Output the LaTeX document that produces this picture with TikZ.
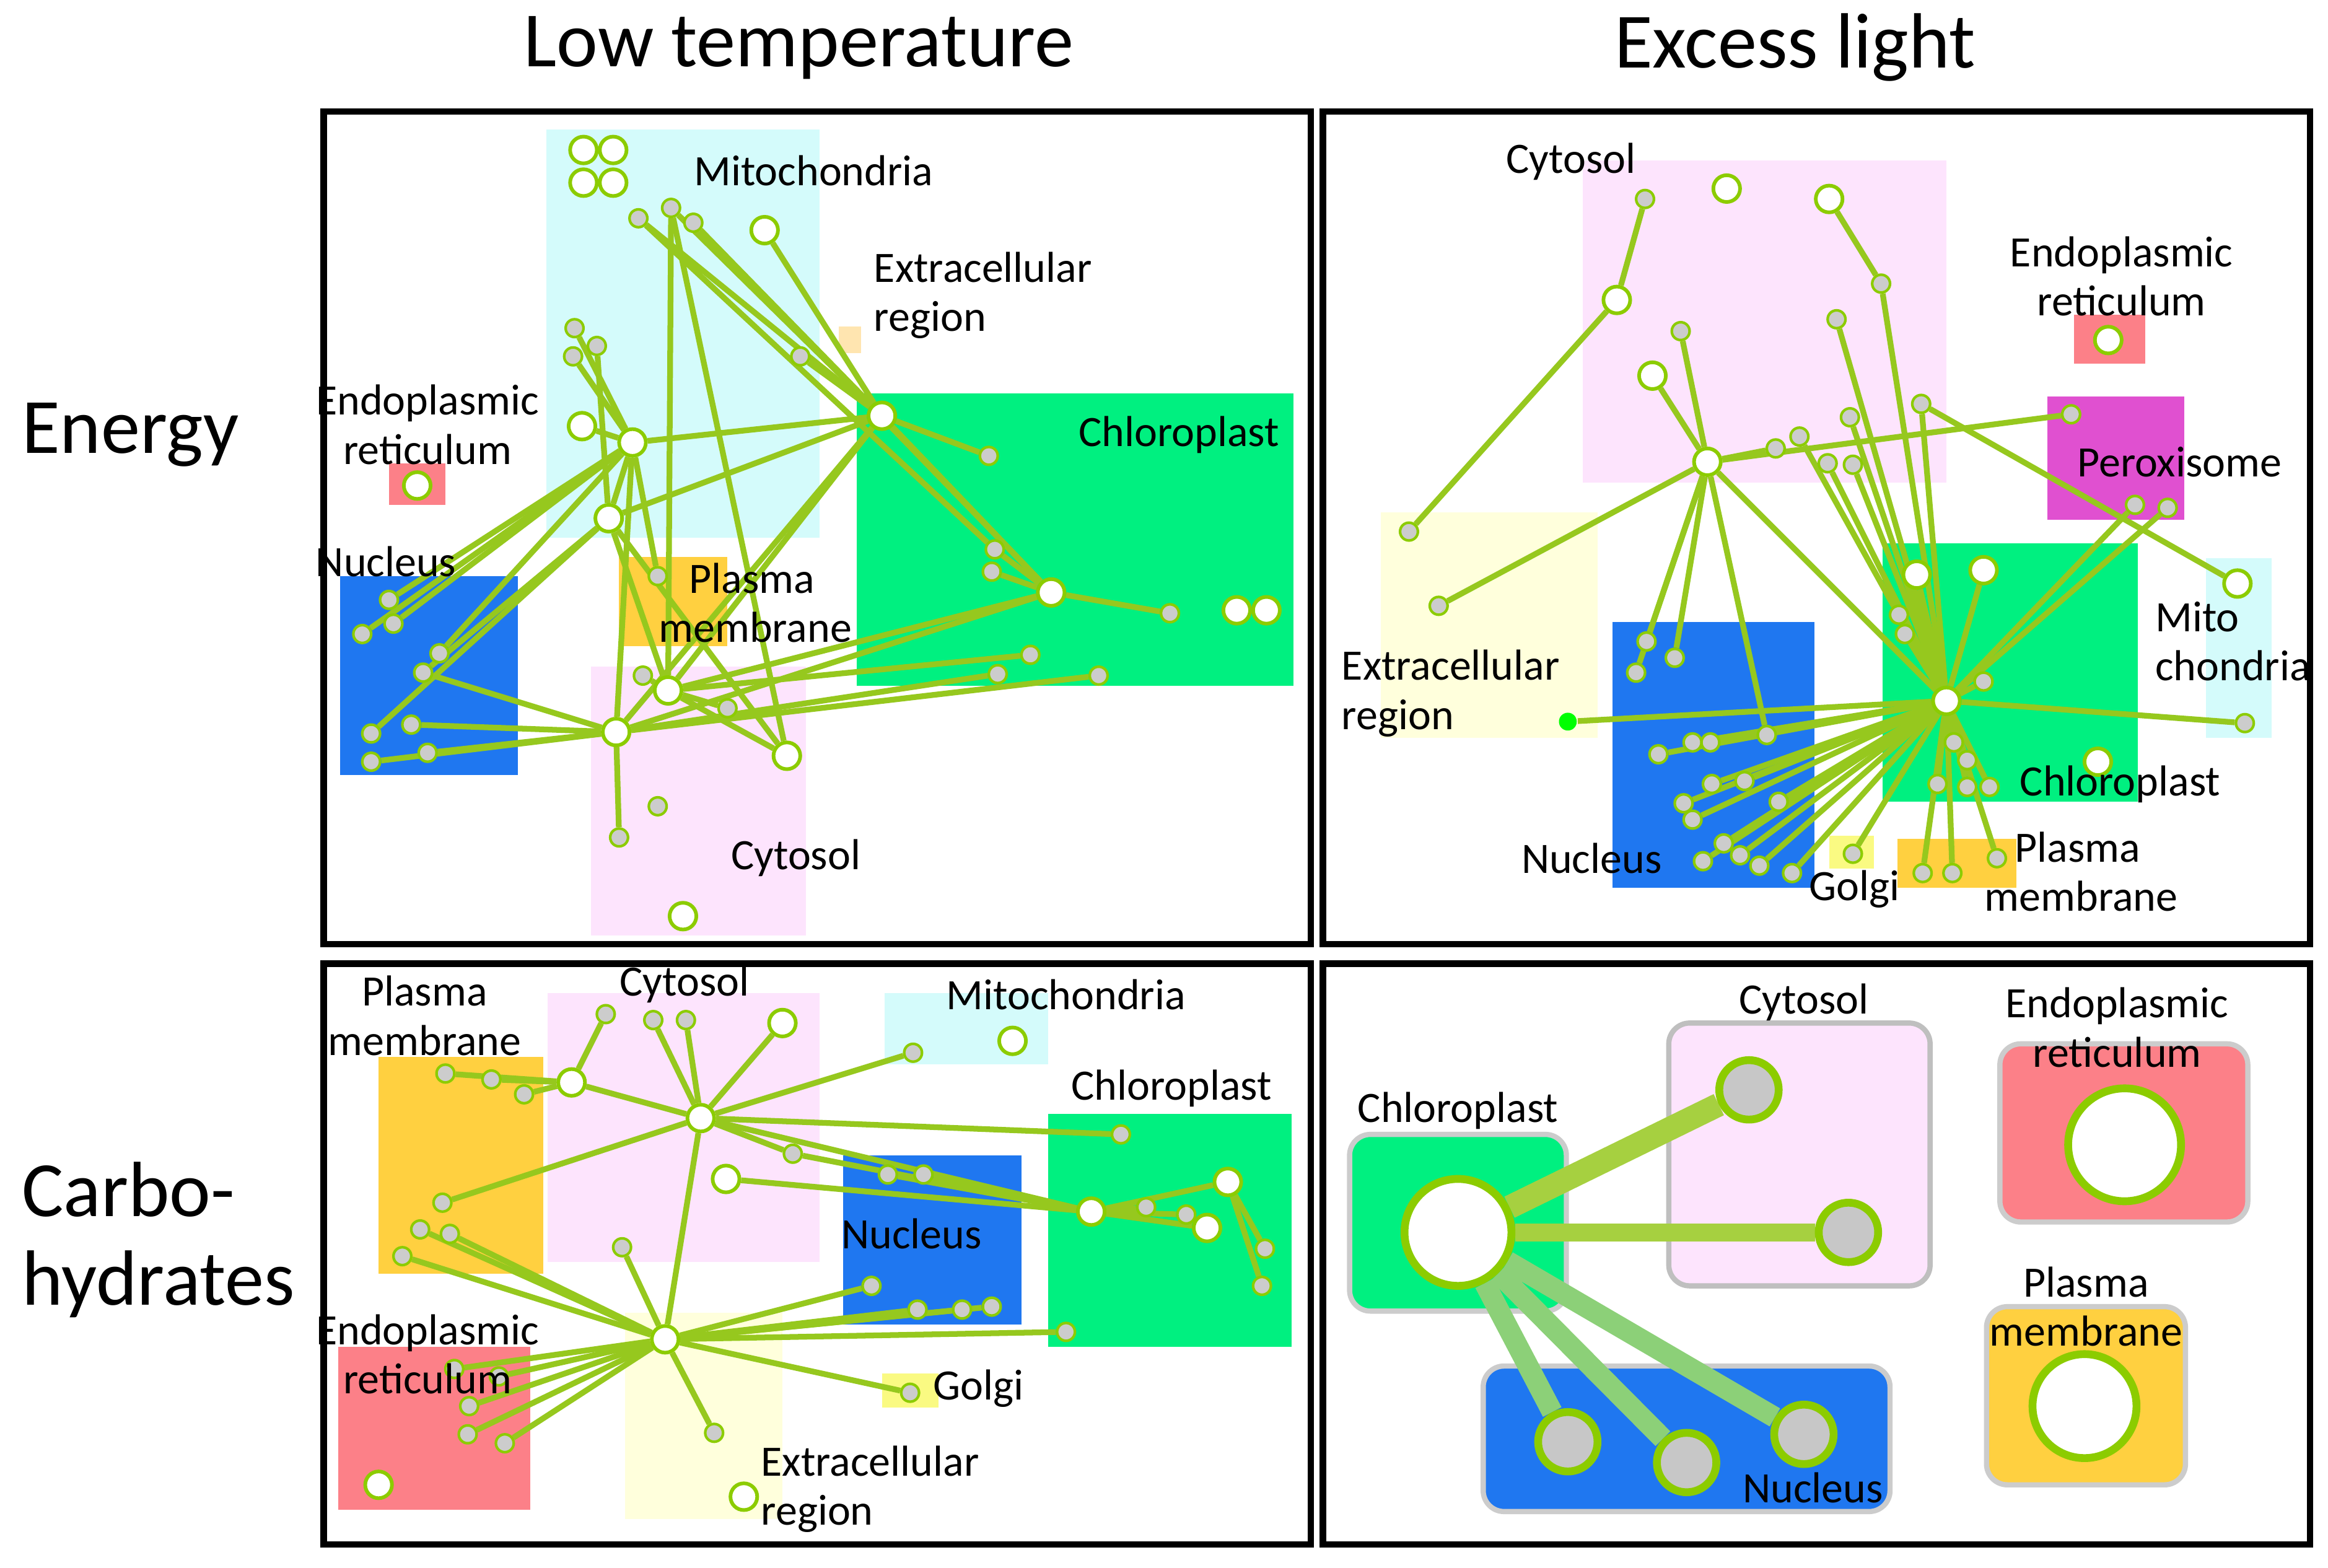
\documentclass[tikz,border=0pt]{standalone}
\usepackage{fontspec}
\setmainfont{Carlito}
\begin{document}
\pgfdeclarelayer{bg}\pgfdeclarelayer{edges}\pgfsetlayers{bg,edges,main}
\definecolor{ecol}{RGB}{150,200,30}
\definecolor{ncol}{RGB}{140,204,0}
\definecolor{cyanb}{RGB}{212,251,251}
\definecolor{greenb}{RGB}{0,240,128}
\definecolor{blueb}{RGB}{31,119,240}
\definecolor{pinkb}{RGB}{253,228,253}
\definecolor{redb}{RGB}{252,128,136}
\definecolor{orangeb}{RGB}{255,208,64}
\definecolor{yellowb}{RGB}{255,255,220}
\definecolor{magb}{RGB}{224,80,208}
\definecolor{golgib}{RGB}{250,250,130}
\definecolor{nedge}{RGB}{140,208,120}
\begin{tikzpicture}[x=0.01cm,y=-0.01cm,
 g/.style={circle,fill=black!20,draw=ncol,line width=0.5pt,inner sep=0,minimum size=0.12cm},
 w/.style={circle,fill=white,draw=ncol,line width=0.7pt,inner sep=0,minimum size=0.18cm},
 e/.style={draw=ecol,line width=1.1pt},
 frame/.style={draw=black,line width=1.2pt},
 lab/.style={font=\fontsize{8.3pt}{9.4pt}\selectfont,align=center,inner sep=0},
 ttl/.style={font=\fontsize{15pt}{17pt}\selectfont,inner sep=0,align=left}]
\useasboundingbox (0,0) rectangle (1568,1056);
\begin{pgfonlayer}{bg}
\fill[white] (0,0) rectangle (1568,1056);
% panel 1
\fill[cyanb] (368,87) rectangle (552,362);
\fill[yellowb!80!orange] (565,220) rectangle (580,238);
\fill[greenb] (577,265) rectangle (871,462);
\fill[redb] (262,312) rectangle (300,340);
\fill[blueb] (229,388) rectangle (349,522);
\fill[orangeb] (417,375) rectangle (490,435);
\fill[pinkb] (398,449) rectangle (543,630);
% panel 2
\fill[pinkb] (1066,108) rectangle (1311,325);
\fill[redb] (1397,212) rectangle (1445,245);
\fill[magb] (1379,267) rectangle (1471,350);
\fill[yellowb] (930,345) rectangle (1076,497);
\fill[blueb] (1086,419) rectangle (1222,598);
\fill[greenb] (1268,366) rectangle (1440,540);
\fill[cyanb] (1486,376) rectangle (1530,497);
\fill[golgib] (1232,563) rectangle (1262,585);
\fill[orangeb] (1278,565) rectangle (1358,598);
% panel 3
\fill[orangeb] (255,712) rectangle (366,858);
\fill[pinkb] (369,669) rectangle (552,850);
\fill[cyanb] (596,669) rectangle (706,717);
\fill[blueb] (568,778) rectangle (688,892);
\fill[greenb] (706,750) rectangle (870,907);
\fill[redb] (228,907) rectangle (357,1017);
\fill[yellowb] (421,884) rectangle (527,1023);
\fill[golgib] (594,925) rectangle (632,948);
% panel 4
\filldraw[pinkb,draw=black!25,line width=1pt,rounded corners=4] (1124,689) rectangle (1300,866);
\filldraw[redb,draw=black!20,line width=1pt,rounded corners=4] (1347,703) rectangle (1514,823);
\filldraw[greenb,draw=black!20,line width=1pt,rounded corners=4] (909,764) rectangle (1055,883);
\filldraw[blueb,draw=black!20,line width=1pt,rounded corners=4] (999,920) rectangle (1273,1018);
\filldraw[orangeb,draw=black!20,line width=1pt,rounded corners=4] (1338,880) rectangle (1472,1000);
\end{pgfonlayer}
% titles
\node[ttl] (t1) at (538,32) {Low temperature};
\node[ttl] (t2) at (1209,32) {Excess light};
\node[ttl,anchor=west] (t3) at (14,293) {Energy};
\node[ttl,anchor=west] (t4) at (14,835) {Carbo-\\hydrates};
\draw[frame] (218,75) rectangle (883,636);
\draw[frame] (891,75) rectangle (1556,636);
\draw[frame] (218,649) rectangle (883,1040);
\draw[frame] (891,649) rectangle (1556,1040);
% ---------- panel 1 nodes
\foreach \n/\x/\y in {h1/426/298,h2/410/349,h3/450/465,h4/415/493,h5/594/280,h6/708/399,h7/530/509,h8/392/287,h9/515/155,m1/393/101,m2/413/101,m3/393/123,m4/413/123,z1/833/411,z2/853/411,z3/460/617,z4/281/327}
 \node[w] (\n) at (\x,\y) {};
\foreach \n/\x/\y in {a1/430/147,a2/452/140,a3/467/150,a4/387/221,a5/402/233,a6/386/240,a7/539/240,x1/490/477,x2/694/441,x3/740/455,x4/672/454,x5/443/543,x6/417/564,x7/666/307,x8/670/370,x9/668/385,x10/788/413,x11/433/455,n1/262/404,n2/244/427,n3/265/420,n4/296/440,n5/285/453,n6/250/494,n7/250/513,n8/277/488,n9/288/507,n10/443/388}
 \node[g] (\n) at (\x,\y) {};
\begin{pgfonlayer}{edges}
\foreach \a/\b in {h1/n1,h1/n2,h1/n3,h1/n4,h1/h5,h1/h2,h1/a4,h1/a6,h1/h8,h1/n10,h2/a5,h2/n5,h2/n6,h2/h5,h2/h3,h3/a2,h3/h6,h3/x1,h3/h7,h3/x2,h3/x11,h4/n7,h4/n8,h4/n9,h4/h6,h4/x3,h4/x4,h4/x6,h4/h1,h4/n5,h5/a1,h5/a2,h5/a3,h5/h4,h5/a7,h5/h9,h5/x7,h5/h3,h6/a3,h6/x8,h6/x9,h6/x10,h6/h5,h7/a2,h7/h2,a1/x8}
 \draw[e] (\a)--(\b);
\end{pgfonlayer}
% ---------- panel 2 nodes
\foreach \n/\x/\y in {C/1150/311,K/1311/472,w1/1163/127,w2/1232/134,w3/1089/202,w4/1113/253,w5/1291/387,w6/1336/384,w7/1413/513,w8/1507/393,w9/1420/229}
 \node[w] (\n) at (\x,\y) {};
\foreach \n/\x/\y in {b1/1108/134,b2/1267/191,b3/1237/215,b4/1132/223,b5/1294/272,b6/1246/281,b7/1196/302,b8/1212/294,b9/1231/312,b10/1248/313,b11/1395/279,b12/1438/340,b13/1460/342,b14/949/358,b15/969/408,b16/1109/432,b17/1128/443,b18/1102/453,b19/1190/495,b20/1140/500,b21/1152/500,b22/1117/508,b23/1175/526,b24/1153/528,b25/1134/541,b26/1198/540,b27/1140/552,b28/1161/568,b29/1172/576,b30/1147/580,b31/1185/583,b32/1207/588,b34/1279/414,b35/1283/427,b36/1336/459,b37/1325/512,b38/1305/528,b39/1325/530,b40/1340/530,b41/1316/500,b42/1248/575,b43/1295/588,b44/1315/588,b45/1345/578,b46/1512/487}
 \node[g] (\n) at (\x,\y) {};
\node[circle,fill=green,inner sep=0,minimum size=0.12cm] (b47) at (1056,486) {};
\begin{pgfonlayer}{edges}
\foreach \a/\b in {b1/w3,w3/b14,C/b15,C/b16,C/b17,C/b18,C/b11,C/b4,C/K,C/b19,C/b7,C/w4,K/b20,K/b21,K/b22,K/b23,K/b24,K/b25,K/b26,K/b27,K/b28,K/b29,K/b30,K/b31,K/b32,K/b34,K/b35,K/b36,K/b37,K/b38,K/b39,K/b40,K/b41,K/b42,K/b43,K/b44,K/b45,K/b46,K/b47,K/b3,K/b2,K/b6,K/b8,K/b9,K/b10,K/b12,K/b13,K/w5,K/w6,b2/w2,b5/w8,K/b5}
 \draw[e] (\a)--(\b);
\end{pgfonlayer}
% ---------- panel 3 nodes
\foreach \n/\x/\y in {e1/385/729,e2/472/753,e3/489/794,e4/527/689,e5/682/701,e6/735/816,e7/827/796,e8/813/827,E/448/902,e10/255/1000,e11/501/1008}
 \node[w] (\n) at (\x,\y) {};
\foreach \n/\x/\y in {f1/408/683,f2/440/687,f3/462/687,f4/300/723,f5/331/727,f6/353/737,f7/615/709,f8/755/764,f9/534/777,f10/598/791,f11/622/791,f12/772/813,f13/799/818,f14/852/841,f15/850/866,f16/298/810,f17/283/828,f18/303/831,f19/271/846,f20/419/840,f21/587/866,f22/618/882,f23/648/882,f24/668/880,f25/718/897,f26/306/922,f27/336/927,f28/316/947,f29/315/966,f30/340/972,f31/481/965,f32/613/938}
 \node[g] (\n) at (\x,\y) {};
\begin{pgfonlayer}{edges}
\foreach \a/\b in {e1/f4,e1/f5,e1/f6,e1/f1,e1/e2,e2/f2,e2/f3,e2/e4,e2/f7,e2/e6,e2/f9,e2/f16,e2/f8,e3/e6,e6/f10,e6/f11,e6/f12,e6/f13,e6/e7,e6/e8,e6/f9,E/f17,E/f18,E/f19,E/f20,E/f21,E/f22,E/f23,E/f24,E/f26,E/f27,E/f28,E/f29,E/f30,E/f31,E/f32,E/f25,E/e2,e7/f14,e7/f15}
 \draw[e] (\a)--(\b);
\end{pgfonlayer}
% ---------- panel 4
\node[circle,fill=white,draw=ncol,line width=1.5pt,minimum size=0.72cm,inner sep=0] (q1) at (982,830) {};
\node[circle,fill=white,draw=ncol,line width=1.5pt,minimum size=0.76cm,inner sep=0] (q2) at (1431,771) {};
\node[circle,fill=white,draw=ncol,line width=1.5pt,minimum size=0.70cm,inner sep=0] (q3) at (1404,947) {};
\foreach \n/\x/\y in {q4/1178/734,q5/1245/830,q6/1056/971,q7/1136/985,q8/1215/966}
 \node[circle,fill=black!22,draw=ncol,line width=1.5pt,minimum size=0.40cm,inner sep=0] (\n) at (\x,\y) {};
\begin{pgfonlayer}{edges}
\draw[draw=ecol!85,line width=4.5pt] (q1)--(q4);
\draw[draw=ecol!85,line width=3.5pt] (q1)--(q5);
\draw[draw=nedge,line width=4pt] (q1)--(q6);
\draw[draw=nedge,line width=4pt] (q1)--(q7);
\draw[draw=nedge,line width=4pt] (q1)--(q8);
\end{pgfonlayer}
% ---------- labels
\node[lab] (l1) at (548,115) {Mitochondria};
\node[lab,align=left,anchor=west] (l2) at (588,199) {Extracellular\\region};
\node[lab] (l3) at (794,293) {Chloroplast};
\node[lab] (l4) at (288,286) {Endoplasmic\\reticulum};
\node[lab] (l5) at (260,378) {Nucleus};
\node[lab,align=left,anchor=west] (l6) at (443,406) {\hspace{0.7em}Plasma\\membrane};
\node[lab] (l7) at (536,578) {Cytosol};
\node[lab] (l8) at (1058,109) {Cytosol};
\node[lab] (l9) at (1429,186) {Endoplasmic\\reticulum};
\node[lab] (l10) at (1468,311) {Peroxisome};
\node[lab,align=left,anchor=west] (l11) at (1451,432) {Mito\\chondria};
\node[lab,align=left,anchor=west] (l12) at (903,467) {Extracellular\\region};
\node[lab] (l13) at (1428,528) {Chloroplast};
\node[lab] (l14) at (1072,578) {Nucleus};
\node[lab] (l15) at (1249,599) {Golgi};
\node[lab,align=left,anchor=west] (l16) at (1336,587) {\hspace{0.7em}Plasma\\membrane};
\node[lab] (l17) at (286,684) {Plasma\\membrane};
\node[lab] (l18) at (461,663) {Cytosol};
\node[lab] (l19) at (718,670) {Mitochondria};
\node[lab] (l20) at (789,733) {Chloroplast};
\node[lab] (l21) at (614,831) {Nucleus};
\node[lab] (l22) at (288,912) {Endoplasmic\\reticulum};
\node[lab] (l23) at (659,935) {Golgi};
\node[lab,align=left,anchor=west] (l24) at (512,1003) {Extracellular\\region};
\node[lab] (l25) at (1215,675) {Cytosol};
\node[lab] (l26) at (1426,692) {Endoplasmic\\reticulum};
\node[lab] (l27) at (982,748) {Chloroplast};
\node[lab] (l28) at (1405,880) {Plasma\\membrane};
\node[lab] (l29) at (1221,1002) {Nucleus};
\end{tikzpicture}
\end{document}
